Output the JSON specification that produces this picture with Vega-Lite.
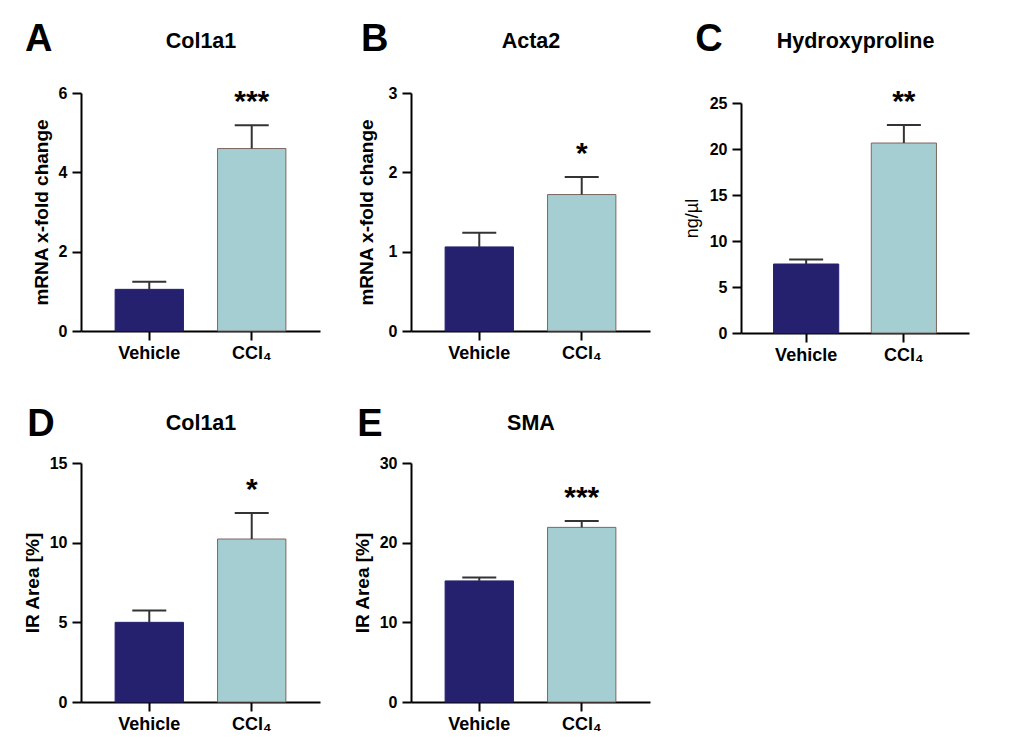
{
  "$schema": "https://vega.github.io/schema/vega-lite/v6.json",
  "background": "white",
  "padding": {"left": 23, "top": 21, "right": 5, "bottom": 5},
  "columns": 3,
  "align": "each",
  "spacing": {"row": 42, "column": 33},
  "config": {
    "font": "Liberation Sans, Arial, sans-serif",
    "view": {"stroke": null},
    "axis": {
      "grid": false,
      "domainColor": "#000000",
      "domainWidth": 2,
      "tickColor": "#000000",
      "tickWidth": 2,
      "tickSize": 9,
      "labelColor": "#000000",
      "labelFontWeight": "bold",
      "titleColor": "#000000",
      "titleFontSize": 19,
      "titleFontWeight": "bold"
    },
    "axisX": {"labelFontSize": 18, "labelPadding": 4, "labelAngle": 0},
    "axisY": {"labelFontSize": 16, "labelPadding": 5, "titlePadding": 7, "format": "d"},
    "title": {"fontSize": 38, "fontWeight": "bold", "color": "#000000", "anchor": "start", "frame": "bounds", "baseline": "alphabetic"}
  },
  "concat": [
    {
      "width": 239, "height": 238,
      "title": {"text": "A", "dx": -7, "offset": -29},
      "data": {"values": [
        {"group": "Vehicle", "mean": 1.05, "upper": 1.24, "star": ""},
        {"group": "CCl₄", "mean": 4.6, "upper": 5.19, "star": "***"}
      ]},
      "layer": [
        {"mark": {"type": "bar", "strokeWidth": 1},
         "encoding": {
           "x": {"field": "group", "type": "nominal", "sort": ["Vehicle", "CCl₄"], "scale": {"paddingInner": 0.333, "paddingOuter": 0.333}, "axis": {"title": null}},
           "y": {"field": "mean", "type": "quantitative", "title": "mRNA x-fold change", "scale": {"domain": [0, 6], "nice": false}, "axis": {"values": [0, 2, 4, 6]}},
           "color": {"field": "group", "type": "nominal", "scale": {"domain": ["Vehicle", "CCl₄"], "range": ["#25216E", "#A4CED2"]}, "legend": null},
           "stroke": {"field": "group", "type": "nominal", "scale": {"domain": ["Vehicle", "CCl₄"], "range": ["#25216E", "#7D6660"]}, "legend": null}
         }},
        {"mark": {"type": "rule", "strokeWidth": 2, "color": "#333333"},
         "encoding": {
           "x": {"field": "group", "type": "nominal", "sort": ["Vehicle", "CCl₄"], "axis": null},
           "y": {"field": "mean", "type": "quantitative", "title": "mRNA x-fold change"},
           "y2": {"field": "upper"}
         }},
        {"mark": {"type": "tick", "size": 34, "thickness": 2, "color": "#333333", "opacity": 1},
         "encoding": {
           "x": {"field": "group", "type": "nominal", "sort": ["Vehicle", "CCl₄"], "axis": null},
           "y": {"field": "upper", "type": "quantitative", "title": "mRNA x-fold change"}
         }},
        {"mark": {"type": "text", "fontSize": 30, "fontWeight": "bold", "baseline": "alphabetic", "dy": -14, "color": "#000000"},
         "encoding": {
           "x": {"field": "group", "type": "nominal", "sort": ["Vehicle", "CCl₄"], "axis": {"orient": "top", "title": "Col1a1", "labels": false, "ticks": false, "domain": false, "titlePadding": 41, "titleFontSize": 21.5}},
           "y": {"field": "upper", "type": "quantitative", "title": "mRNA x-fold change"},
           "text": {"field": "star"}
         }}
      ],
      "resolve": {"axis": {"x": "independent"}}
    },
    {
      "width": 239, "height": 238,
      "title": {"text": "B", "dx": 4, "offset": -29},
      "data": {"values": [
        {"group": "Vehicle", "mean": 1.06, "upper": 1.24, "star": ""},
        {"group": "CCl₄", "mean": 1.72, "upper": 1.94, "star": "*"}
      ]},
      "layer": [
        {"mark": {"type": "bar", "strokeWidth": 1},
         "encoding": {
           "x": {"field": "group", "type": "nominal", "sort": ["Vehicle", "CCl₄"], "scale": {"paddingInner": 0.333, "paddingOuter": 0.333}, "axis": {"title": null}},
           "y": {"field": "mean", "type": "quantitative", "title": "mRNA x-fold change", "scale": {"domain": [0, 3], "nice": false}, "axis": {"values": [0, 1, 2, 3], "titlePadding": 12}},
           "color": {"field": "group", "type": "nominal", "scale": {"domain": ["Vehicle", "CCl₄"], "range": ["#25216E", "#A4CED2"]}, "legend": null},
           "stroke": {"field": "group", "type": "nominal", "scale": {"domain": ["Vehicle", "CCl₄"], "range": ["#25216E", "#7D6660"]}, "legend": null}
         }},
        {"mark": {"type": "rule", "strokeWidth": 2, "color": "#333333"},
         "encoding": {
           "x": {"field": "group", "type": "nominal", "sort": ["Vehicle", "CCl₄"], "axis": null},
           "y": {"field": "mean", "type": "quantitative", "title": "mRNA x-fold change"},
           "y2": {"field": "upper"}
         }},
        {"mark": {"type": "tick", "size": 34, "thickness": 2, "color": "#333333", "opacity": 1},
         "encoding": {
           "x": {"field": "group", "type": "nominal", "sort": ["Vehicle", "CCl₄"], "axis": null},
           "y": {"field": "upper", "type": "quantitative", "title": "mRNA x-fold change"}
         }},
        {"mark": {"type": "text", "fontSize": 30, "fontWeight": "bold", "baseline": "alphabetic", "dy": -14, "color": "#000000"},
         "encoding": {
           "x": {"field": "group", "type": "nominal", "sort": ["Vehicle", "CCl₄"], "axis": {"orient": "top", "title": "Acta2", "labels": false, "ticks": false, "domain": false, "titlePadding": 41, "titleFontSize": 21.5}},
           "y": {"field": "upper", "type": "quantitative", "title": "mRNA x-fold change"},
           "text": {"field": "star"}
         }}
      ],
      "resolve": {"axis": {"x": "independent"}}
    },
    {
      "width": 228, "height": 240,
      "title": {"text": "C", "dx": 12, "offset": -29},
      "data": {"values": [
        {"group": "Vehicle", "mean": 7.5, "upper": 7.98, "star": ""},
        {"group": "CCl₄", "mean": 20.65, "upper": 22.6, "star": "**"}
      ]},
      "layer": [
        {"mark": {"type": "bar", "strokeWidth": 1},
         "encoding": {
           "x": {"field": "group", "type": "nominal", "sort": ["Vehicle", "CCl₄"], "scale": {"paddingInner": 0.333, "paddingOuter": 0.333}, "axis": {"title": null}},
           "y": {"field": "mean", "type": "quantitative", "title": "ng/µl", "scale": {"domain": [0, 25], "nice": false, "range": [240, 10]}, "axis": {"values": [0, 5, 10, 15, 20, 25], "titleFontWeight": "normal", "titleFontSize": 18, "titlePadding": 8}},
           "color": {"field": "group", "type": "nominal", "scale": {"domain": ["Vehicle", "CCl₄"], "range": ["#25216E", "#A4CED2"]}, "legend": null},
           "stroke": {"field": "group", "type": "nominal", "scale": {"domain": ["Vehicle", "CCl₄"], "range": ["#25216E", "#7D6660"]}, "legend": null}
         }},
        {"mark": {"type": "rule", "strokeWidth": 2, "color": "#333333"},
         "encoding": {
           "x": {"field": "group", "type": "nominal", "sort": ["Vehicle", "CCl₄"], "axis": null},
           "y": {"field": "mean", "type": "quantitative", "title": "ng/µl"},
           "y2": {"field": "upper"}
         }},
        {"mark": {"type": "tick", "size": 34, "thickness": 2, "color": "#333333", "opacity": 1},
         "encoding": {
           "x": {"field": "group", "type": "nominal", "sort": ["Vehicle", "CCl₄"], "axis": null},
           "y": {"field": "upper", "type": "quantitative", "title": "ng/µl"}
         }},
        {"mark": {"type": "text", "fontSize": 30, "fontWeight": "bold", "baseline": "alphabetic", "dy": -14, "color": "#000000"},
         "encoding": {
           "x": {"field": "group", "type": "nominal", "sort": ["Vehicle", "CCl₄"], "axis": {"orient": "top", "title": "Hydroxyproline", "labels": false, "ticks": false, "domain": false, "titlePadding": 41, "titleFontSize": 21.5}},
           "y": {"field": "upper", "type": "quantitative", "title": "ng/µl"},
           "text": {"field": "star"}
         }}
      ],
      "resolve": {"axis": {"x": "independent"}}
    },
    {
      "width": 239, "height": 239,
      "title": {"text": "D", "dx": 4, "offset": -32},
      "data": {"values": [
        {"group": "Vehicle", "mean": 5.0, "upper": 5.75, "star": ""},
        {"group": "CCl₄", "mean": 10.23, "upper": 11.86, "star": "*"}
      ]},
      "layer": [
        {"mark": {"type": "bar", "strokeWidth": 1},
         "encoding": {
           "x": {"field": "group", "type": "nominal", "sort": ["Vehicle", "CCl₄"], "scale": {"paddingInner": 0.333, "paddingOuter": 0.333}, "axis": {"title": null}},
           "y": {"field": "mean", "type": "quantitative", "title": "IR Area [%]", "scale": {"domain": [0, 15], "nice": false}, "axis": {"values": [0, 5, 10, 15]}},
           "color": {"field": "group", "type": "nominal", "scale": {"domain": ["Vehicle", "CCl₄"], "range": ["#25216E", "#A4CED2"]}, "legend": null},
           "stroke": {"field": "group", "type": "nominal", "scale": {"domain": ["Vehicle", "CCl₄"], "range": ["#25216E", "#7D6660"]}, "legend": null}
         }},
        {"mark": {"type": "rule", "strokeWidth": 2, "color": "#333333"},
         "encoding": {
           "x": {"field": "group", "type": "nominal", "sort": ["Vehicle", "CCl₄"], "axis": null},
           "y": {"field": "mean", "type": "quantitative", "title": "IR Area [%]"},
           "y2": {"field": "upper"}
         }},
        {"mark": {"type": "tick", "size": 34, "thickness": 2, "color": "#333333", "opacity": 1},
         "encoding": {
           "x": {"field": "group", "type": "nominal", "sort": ["Vehicle", "CCl₄"], "axis": null},
           "y": {"field": "upper", "type": "quantitative", "title": "IR Area [%]"}
         }},
        {"mark": {"type": "text", "fontSize": 30, "fontWeight": "bold", "baseline": "alphabetic", "dy": -14, "color": "#000000"},
         "encoding": {
           "x": {"field": "group", "type": "nominal", "sort": ["Vehicle", "CCl₄"], "axis": {"orient": "top", "title": "Col1a1", "labels": false, "ticks": false, "domain": false, "titlePadding": 29, "titleFontSize": 21.5}},
           "y": {"field": "upper", "type": "quantitative", "title": "IR Area [%]"},
           "text": {"field": "star"}
         }}
      ],
      "resolve": {"axis": {"x": "independent"}}
    },
    {
      "width": 239, "height": 239,
      "title": {"text": "E", "dx": 4, "offset": -32},
      "data": {"values": [
        {"group": "Vehicle", "mean": 15.2, "upper": 15.64, "star": ""},
        {"group": "CCl₄", "mean": 21.92, "upper": 22.72, "star": "***"}
      ]},
      "layer": [
        {"mark": {"type": "bar", "strokeWidth": 1},
         "encoding": {
           "x": {"field": "group", "type": "nominal", "sort": ["Vehicle", "CCl₄"], "scale": {"paddingInner": 0.333, "paddingOuter": 0.333}, "axis": {"title": null}},
           "y": {"field": "mean", "type": "quantitative", "title": "IR Area [%]", "scale": {"domain": [0, 30], "nice": false}, "axis": {"values": [0, 10, 20, 30]}},
           "color": {"field": "group", "type": "nominal", "scale": {"domain": ["Vehicle", "CCl₄"], "range": ["#25216E", "#A4CED2"]}, "legend": null},
           "stroke": {"field": "group", "type": "nominal", "scale": {"domain": ["Vehicle", "CCl₄"], "range": ["#25216E", "#7D6660"]}, "legend": null}
         }},
        {"mark": {"type": "rule", "strokeWidth": 2, "color": "#333333"},
         "encoding": {
           "x": {"field": "group", "type": "nominal", "sort": ["Vehicle", "CCl₄"], "axis": null},
           "y": {"field": "mean", "type": "quantitative", "title": "IR Area [%]"},
           "y2": {"field": "upper"}
         }},
        {"mark": {"type": "tick", "size": 34, "thickness": 2, "color": "#333333", "opacity": 1},
         "encoding": {
           "x": {"field": "group", "type": "nominal", "sort": ["Vehicle", "CCl₄"], "axis": null},
           "y": {"field": "upper", "type": "quantitative", "title": "IR Area [%]"}
         }},
        {"mark": {"type": "text", "fontSize": 30, "fontWeight": "bold", "baseline": "alphabetic", "dy": -14, "color": "#000000"},
         "encoding": {
           "x": {"field": "group", "type": "nominal", "sort": ["Vehicle", "CCl₄"], "axis": {"orient": "top", "title": "SMA", "labels": false, "ticks": false, "domain": false, "titlePadding": 29, "titleFontSize": 21.5}},
           "y": {"field": "upper", "type": "quantitative", "title": "IR Area [%]"},
           "text": {"field": "star"}
         }}
      ],
      "resolve": {"axis": {"x": "independent"}}
    }
  ]
}
